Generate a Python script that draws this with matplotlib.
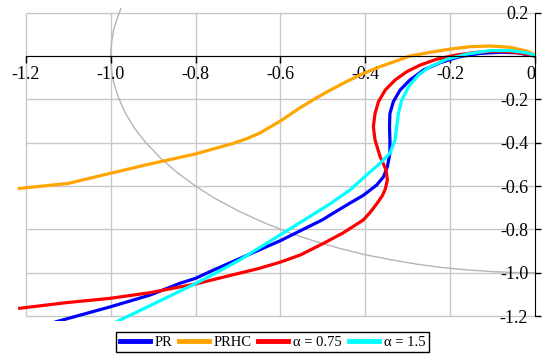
import numpy as np
import matplotlib.pyplot as plt

plt.rcParams['font.family'] = ['Liberation Serif', 'DejaVu Serif']
plt.rcParams['axes.unicode_minus'] = False

# curves
pr_x = [-1.128, -1.0, -0.907, -0.837, -0.80, -0.758, -0.695, -0.60, -0.50, -0.483,
        -0.444, -0.404, -0.373, -0.357, -0.348, -0.342, -0.342, -0.343, -0.342,
        -0.334, -0.318, -0.295, -0.263, -0.224, -0.177, -0.130, -0.083, -0.043, 0.0]
pr_y = [-1.226, -1.157, -1.103, -1.049, -1.026, -0.988, -0.934, -0.852, -0.755, -0.734,
        -0.688, -0.642, -0.595, -0.557, -0.511, -0.449, -0.388, -0.326, -0.265,
        -0.211, -0.157, -0.111, -0.065, -0.031, -0.003, 0.012, 0.017, 0.015, 0.0]

prhc_x = [-1.215, -1.10, -1.0, -0.907, -0.80, -0.711, -0.68, -0.648, -0.60, -0.553,
          -0.514, -0.483, -0.444, -0.404, -0.365, -0.326, -0.295, -0.247, -0.200,
          -0.153, -0.106, -0.059, -0.020, 0.0]
prhc_y = [-0.611, -0.588, -0.541, -0.498, -0.452, -0.403, -0.382, -0.355, -0.300, -0.238,
          -0.192, -0.158, -0.118, -0.080, -0.049, -0.022, 0.0, 0.017, 0.032,
          0.043, 0.046, 0.040, 0.023, 0.005]

a075_x = [-1.214, -1.104, -1.0, -0.907, -0.80, -0.742, -0.70, -0.65, -0.60, -0.553,
          -0.50, -0.452, -0.405, -0.39, -0.373, -0.36, -0.353, -0.348, -0.351,
          -0.365, -0.377, -0.381, -0.377, -0.369, -0.353, -0.330, -0.302, -0.271,
          -0.232, -0.185, -0.138, -0.090, -0.051, -0.020, 0.0]
a075_y = [-1.164, -1.138, -1.118, -1.092, -1.052, -1.024, -1.004, -0.980, -0.951, -0.918,
          -0.866, -0.816, -0.757, -0.725, -0.682, -0.645, -0.615, -0.572, -0.526,
          -0.465, -0.388, -0.326, -0.265, -0.211, -0.157, -0.111, -0.072, -0.042,
          -0.015, 0.005, 0.017, 0.022, 0.018, 0.009, 0.0]

a15_x = [-0.986, -0.907, -0.80, -0.751, -0.695, -0.60, -0.54, -0.483, -0.436, -0.397,
         -0.365, -0.342, -0.330, -0.326, -0.322, -0.314, -0.298, -0.275, -0.247,
         -0.208, -0.161, -0.106, -0.059, -0.020, 0.0]
a15_y = [-1.226, -1.152, -1.05, -1.0, -0.94, -0.825, -0.752, -0.682, -0.618, -0.549,
         -0.495, -0.449, -0.388, -0.326, -0.265, -0.203, -0.142, -0.088, -0.049,
         -0.015, 0.009, 0.025, 0.025, 0.015, 0.003]

# thin grey arc
arc_x = [-0.976, -0.985, -0.993, -0.998, -1.0, -0.998, -0.993, -0.982, -0.966, -0.945,
         -0.917, -0.883, -0.845, -0.80, -0.755, -0.70, -0.64, -0.58, -0.52, -0.46,
         -0.40, -0.34, -0.28, -0.22, -0.16, -0.10, -0.05, 0.0]
arc_y = [0.218, 0.17, 0.12, 0.06, 0.0, -0.06, -0.12, -0.19, -0.26, -0.33,
         -0.40, -0.47, -0.535, -0.60, -0.656, -0.714, -0.768, -0.815, -0.854, -0.888,
         -0.917, -0.94, -0.96, -0.976, -0.987, -0.995, -0.999, -1.0]

x_ticks = [-1.2, -1.0, -0.8, -0.6, -0.4, -0.2, 0.0]
x_labels = ['-1.2', '-1.0', '-0.8', '-0.6', '-0.4', '-0.2', '0']
y_ticks = [0.2, -0.2, -0.4, -0.6, -0.8, -1.0, -1.2]
y_labels = ['0.2', '-0.2', '-0.4', '-0.6', '-0.8', '-1.0', '-1.2']
y_grid = [0.2, 0.0, -0.2, -0.4, -0.6, -0.8, -1.0, -1.2]

fig = plt.figure(figsize=(5.5, 3.59), dpi=100)
ax = fig.add_axes([0.0313, 0.1045, 0.9416, 0.8844])
ax.set_xlim(-1.22, 0)
ax.set_ylim(-1.225, 0.24)

gc = '#c8c8c8'
ax.vlines(x_ticks[:-1], -1.2, 0.2, color=gc, lw=1.0, zorder=0)
ax.hlines(y_grid, -1.2, 0, color=gc, lw=1.0, zorder=0)

ax.plot(arc_x, arc_y, color='#b4b4b4', lw=1.0, zorder=1)

lines = []
lines += ax.plot(pr_x, pr_y, color='#0000ff', lw=2.3, label='PR')
lines += ax.plot(prhc_x, prhc_y, color='#ffa500', lw=2.3, label='PRHC')
lines += ax.plot(a075_x, a075_y, color='#ff0000', lw=2.3, label='α = 0.75')
lines += ax.plot(a15_x, a15_y, color='#00ffff', lw=2.3, label='α = 1.5')

for s in ['top', 'right']:
    ax.spines[s].set_visible(False)
ax.spines['left'].set_position(('data', 0))
ax.spines['left'].set_bounds(-1.2, 0.2)
ax.spines['bottom'].set_position(('data', 0))
ax.spines['bottom'].set_bounds(-1.2, 0)
ax.spines['left'].set_zorder(5)
ax.spines['bottom'].set_zorder(5)

ax.set_xticks(x_ticks)
ax.set_xticklabels(x_labels)
ax.set_yticks(y_ticks)
ax.set_yticklabels(y_labels)
ax.tick_params(axis='x', direction='out', length=5, width=1, pad=2, labelsize=13)
ax.tick_params(axis='y', direction='in', length=4, width=1, pad=5, labelsize=13)
ax.get_xticklabels()[-1].set_ha('right')

leg = fig.legend(handles=lines, loc='center', bbox_to_anchor=(0.4955, 0.047), ncol=4,
                 frameon=True, fancybox=False, edgecolor='black', framealpha=1,
                 fontsize=10.5, handlelength=2.05, handletextpad=0.35,
                 columnspacing=0.45, borderpad=0.25)
leg.get_frame().set_linewidth(1.0)
for l in leg.get_lines():
    l.set_linewidth(3.5)

fig.savefig('out.png', dpi=100)
